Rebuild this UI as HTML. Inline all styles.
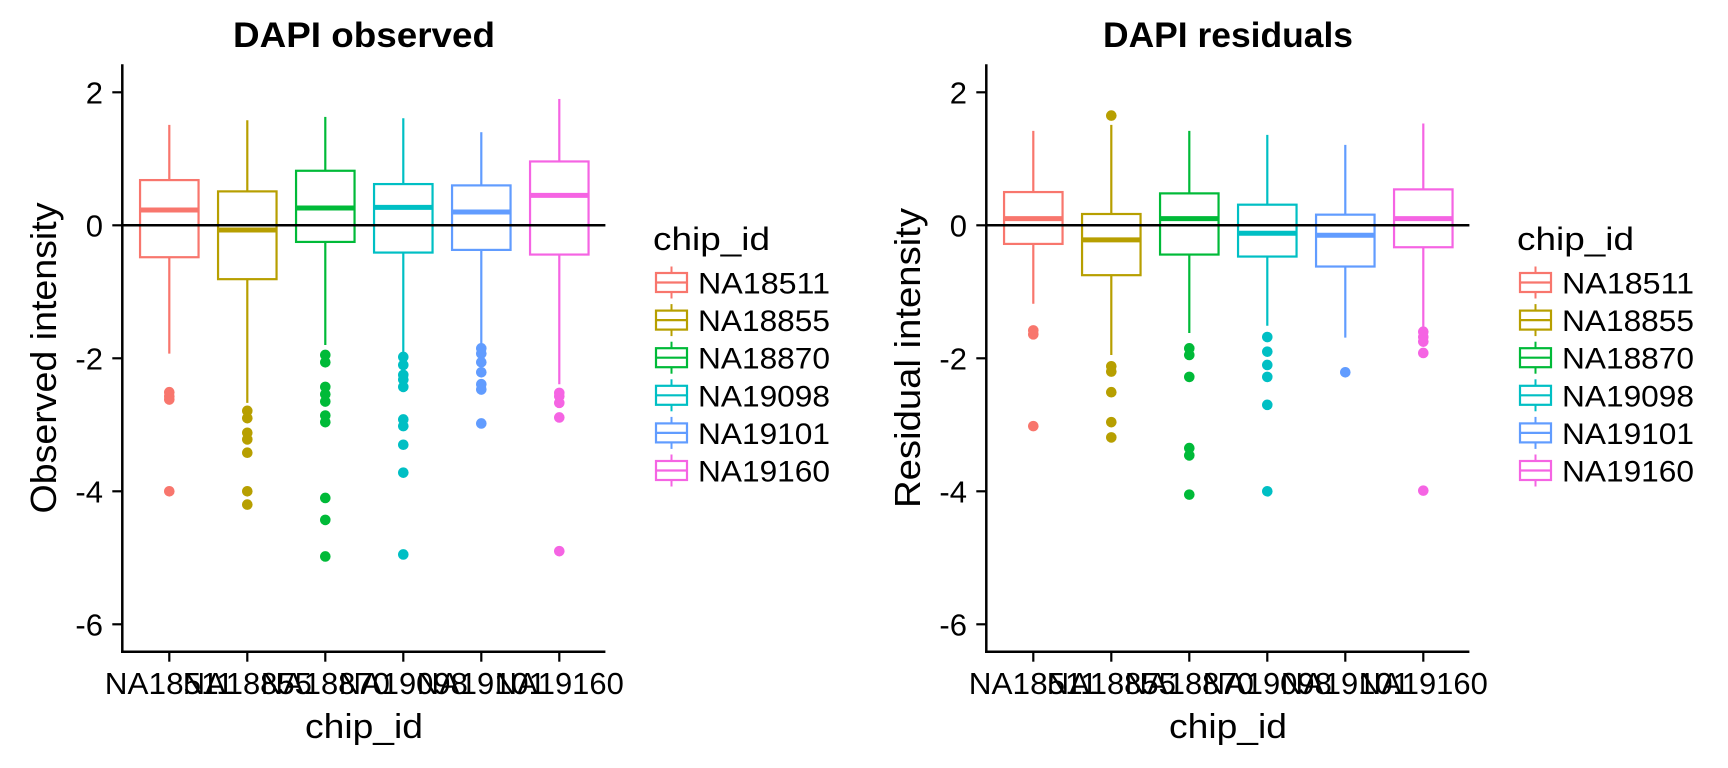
<!DOCTYPE html>
<html><head><meta charset="utf-8"><style>
html,body{margin:0;padding:0;background:#fff;}
svg{display:block;font-family:"Liberation Sans",Arial,sans-serif;}
</style></head><body>
<svg id="chart" width="1728" height="768" viewBox="0 0 1728 768" xmlns="http://www.w3.org/2000/svg"></svg>
<script>
const categories = ["NA18511","NA18855","NA18870","NA19098","NA19101","NA19160"];
const colors = ["#F8766D","#B79F00","#00BA38","#00BFC4","#619CFF","#F564E3"];
const yTicks = [2,0,-2,-4,-6];
const panelTitles = ["DAPI observed","DAPI residuals"];
const yTitles = ["Observed intensity","Residual intensity"];
// observed: [whiskerLow, Q1, median, Q3, whiskerHigh]
const obsStats = [
  [-1.93,-0.48,0.23,0.68,1.51],
  [-2.67,-0.81,-0.07,0.51,1.58],
  [-1.80,-0.25,0.26,0.82,1.63],
  [-1.92,-0.41,0.27,0.62,1.61],
  [-1.80,-0.37,0.20,0.60,1.40],
  [-2.39,-0.44,0.45,0.96,1.90]
];
const obsOutliers = [
  [-2.51,-2.57,-2.62,-4.0],
  [-2.79,-2.9,-3.12,-3.22,-3.42,-4.0,-4.2],
  [-1.95,-2.06,-2.43,-2.54,-2.65,-2.86,-2.96,-4.1,-4.43,-4.98],
  [-1.98,-2.1,-2.25,-2.32,-2.43,-2.92,-3.02,-3.3,-3.72,-4.95],
  [-1.85,-1.93,-2.06,-2.21,-2.39,-2.47,-2.98],
  [-2.52,-2.57,-2.67,-2.89,-4.9]
];
const resStats = [
  [-1.18,-0.28,0.10,0.50,1.42],
  [-1.95,-0.75,-0.22,0.17,1.51],
  [-1.62,-0.44,0.10,0.48,1.42],
  [-1.51,-0.47,-0.12,0.31,1.36],
  [-1.69,-0.62,-0.15,0.16,1.21],
  [-1.55,-0.33,0.10,0.54,1.53]
];
const resOutliers = [
  [-1.58,-1.64,-3.02],
  [1.65,-2.12,-2.2,-2.51,-2.96,-3.19],
  [-1.85,-1.95,-2.28,-3.35,-3.46,-4.05],
  [-1.68,-1.9,-2.1,-2.28,-2.7,-4.0],
  [-2.21],
  [-1.6,-1.68,-1.75,-1.92,-3.99]
];

const NS="http://www.w3.org/2000/svg";
const svg=document.getElementById('chart');
function mk(tag,attrs,parent){const e=document.createElementNS(NS,tag);for(const k in attrs)e.setAttribute(k,attrs[k]);(parent||svg).appendChild(e);return e;}

const AX_L=122.3, AX_R=605.4, AX_T=64.3, AX_B=651.7;
const Y0=225.3, YU=66.5, STEP=78, X1=169.3;
function yScale(v){return Y0 - v*YU;}
function xScale(i){return X1 + i*STEP;}

function drawPanel(p, stats, outs){
  const off=p*864;
  const g=mk('g',{transform:'translate('+off+',0)'});
  
  
  const t=mk('text',{x:364,y:47,'text-anchor':'middle','font-size':35,'font-weight':'bold',fill:'#000',textLength:p===0?262:250,lengthAdjust:'spacingAndGlyphs'},g);
  t.textContent=panelTitles[p];
  
  
  for(let i=0;i<categories.length;i++){
    const s=stats[i], c=colors[i], cx=xScale(i), hw=29.25;
    const bg=mk('g',{},g);
    
    
    mk('line',{x1:cx,x2:cx,y1:yScale(s[4]),y2:yScale(s[3]),stroke:c,'stroke-width':2.2},bg);
    mk('line',{x1:cx,x2:cx,y1:yScale(s[1]),y2:yScale(s[0]),stroke:c,'stroke-width':2.2},bg);
    mk('rect',{x:cx-hw,y:yScale(s[3]),width:2*hw,height:yScale(s[1])-yScale(s[3]),fill:'#fff',stroke:c,'stroke-width':2.2},bg);
    mk('line',{x1:cx-hw,x2:cx+hw,y1:yScale(s[2]),y2:yScale(s[2]),stroke:c,'stroke-width':5},bg);
    for(const o of outs[i]){
      const d=mk('circle',{cx:cx,cy:yScale(o),r:5.3,fill:c},bg);
      
      
    }
  }
  const z=mk('line',{x1:AX_L,x2:AX_R,y1:yScale(0),y2:yScale(0),stroke:'#000','stroke-width':2.5},g);
  
  
  const ya=mk('line',{x1:AX_L,x2:AX_L,y1:AX_T,y2:AX_B+1.2,stroke:'#000','stroke-width':2.5},g);
  
  
  const xa=mk('line',{x1:AX_L-1.2,x2:AX_R,y1:AX_B,y2:AX_B,stroke:'#000','stroke-width':2.5},g);
  
  
  for(const v of yTicks){
    mk('line',{x1:AX_L-10,x2:AX_L,y1:yScale(v),y2:yScale(v),stroke:'#000','stroke-width':2.2},g);
    const tl=mk('text',{x:103,y:yScale(v)+11,'text-anchor':'end','font-size':31,fill:'#000'},g);
    tl.textContent=v;
    
    
  }
  for(let i=0;i<categories.length;i++){
    mk('line',{x1:xScale(i),x2:xScale(i),y1:AX_B,y2:AX_B+10,stroke:'#000','stroke-width':2.2},g);
    const tl=mk('text',{x:xScale(i),y:694,'text-anchor':'middle','font-size':31,fill:'#000',textLength:129,lengthAdjust:'spacingAndGlyphs'},g);
    tl.textContent=categories[i];
    
    
  }
  const xt=mk('text',{x:364,y:738,'text-anchor':'middle','font-size':34,fill:'#000',textLength:118,lengthAdjust:'spacingAndGlyphs'},g);
  xt.textContent='chip_id';
  
  
  const yt=mk('text',{x:0,y:0,'text-anchor':'middle','font-size':36,fill:'#000',transform:'translate(56,358) rotate(-90)',textLength:p===0?311:300,lengthAdjust:'spacingAndGlyphs'},g);
  yt.textContent=yTitles[p];
  
  
  const lg=mk('g',{},g);
  
  
  const lt=mk('text',{x:653,y:250,'font-size':32,fill:'#000',textLength:117,lengthAdjust:'spacingAndGlyphs'},lg);
  lt.textContent='chip_id';
  
  
  for(let i=0;i<categories.length;i++){
    const cy=282.5+i*37.6, c=colors[i];
    const eg=mk('g',{},lg);
    
    
    mk('line',{x1:671.5,x2:671.5,y1:cy-16,y2:cy+16,stroke:c,'stroke-width':2},eg);
    mk('rect',{x:656,y:cy-9.5,width:31,height:19,fill:'#fff',stroke:c,'stroke-width':2.2},eg);
    mk('line',{x1:656,x2:687,y1:cy,y2:cy,stroke:c,'stroke-width':2.2},eg);
    const et=mk('text',{x:698,y:cy+11,'font-size':30,fill:'#000',textLength:132,lengthAdjust:'spacingAndGlyphs'},eg);
    et.textContent=categories[i];
  }
}
drawPanel(0,obsStats,obsOutliers);
drawPanel(1,resStats,resOutliers);
</script>
</body></html>
